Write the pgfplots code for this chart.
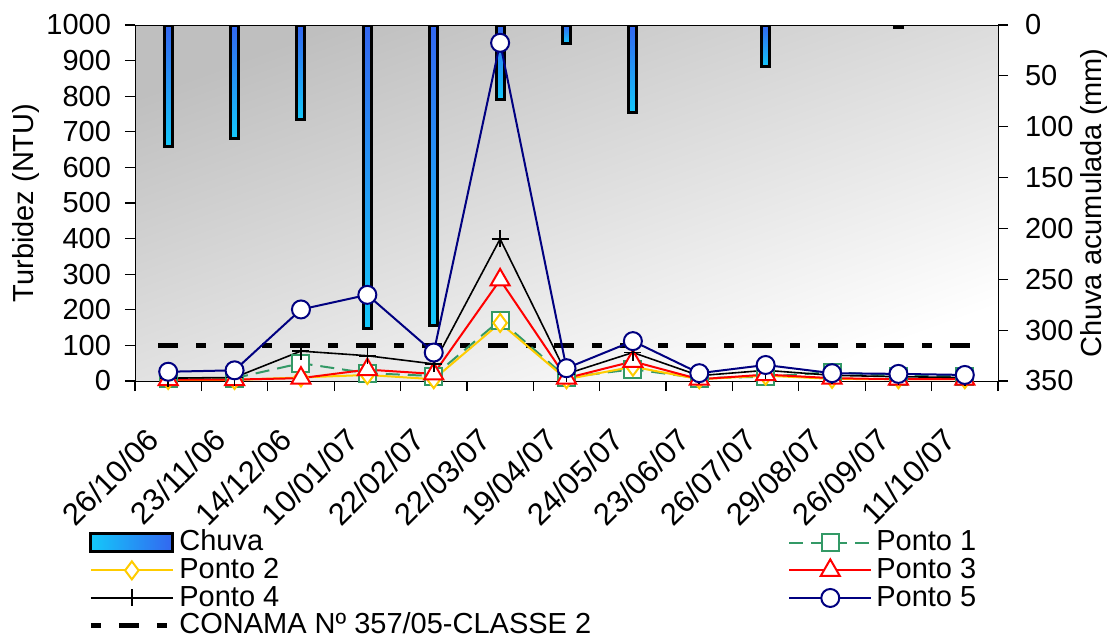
\documentclass[border=0pt]{standalone}
\usepackage{pgfplots}
\pgfplotsset{compat=1.18}
\usepackage{pgfplotstable}
\usepackage{fontspec}
\setmainfont{Liberation Sans}
\definecolor{p1}{HTML}{339966}
\definecolor{p2}{HTML}{FFCC00}
\definecolor{p5}{HTML}{000080}
\definecolor{chtop}{HTML}{3366F0}
\definecolor{chbot}{HTML}{14C8FA}

% turbidez (NTU)
\pgfplotstableread{
x p1 p2 p3 p4 p5
0 6 3 4 8 26
1 8 3 4 10 30
2 50 10 8 84 201
3 22 17 32 71 242
4 14 5 20 48 80
5 171 163 284 399 950
6 10 5 8 20 36
7 33 40 55 80 112
8 8 5 5 15 22
9 12 15 18 30 45
10 25 6 8 16 22
11 14 5 5 12 20
12 14 5 5 10 17
}\turb

\pgfplotsset{
  base/.style={
    scale only axis, width=431.5pt, height=178pt,
    xmin=-0.5, xmax=12.5,
    tick align=outside, major tick length=5pt,
    /pgf/number format/assume math mode=true,
    /pgf/number format/1000 sep={},
    tick style={black, line width=0.6pt},
  },
  chbar/.style={ybar, bar width=4pt, bar shift=0pt, draw=black, line width=1.5pt,
    top color=chtop, bottom color=chbot},
}

\begin{document}
\begin{tikzpicture}[font=\fontsize{14.5}{17}\selectfont]
\begin{axis}[
  base, name=rain,
  axis x line=none,
  axis y line*=right,
  y dir=reverse, ymin=0, ymax=350, ytick={0,50,...,350},
  yticklabel style={xshift=5pt},
  ylabel={Chuva acumulada (mm)},
  ylabel style={at={([xshift=48pt]rel axis cs:1,0.5)}, anchor=center},
  axis background/.style={shade, top color=gray!50, bottom color=white, shading angle=20},
]
% chuva acumulada (mm)
\addplot[chbar] coordinates {(0,119)};
\addplot[chbar] coordinates {(1,112)};
\addplot[chbar] coordinates {(2,93)};
\addplot[chbar] coordinates {(3,298)};
\addplot[chbar] coordinates {(4,295)};
\addplot[chbar] coordinates {(5,73)};
\addplot[chbar] coordinates {(6,18)};
\addplot[chbar] coordinates {(7,86)};
\addplot[chbar] coordinates {(9,41)};
\addplot[chbar] coordinates {(11,2)};
\end{axis}

\begin{axis}[
  base,
  ymin=0, ymax=1000, ytick={0,100,...,1000},
  ytick pos=left, xtick pos=left,
  yticklabel style={xshift=-3.5pt},
  xtick={-0.5,0.5,...,12.5}, xticklabels={},
  extra x ticks={0,...,12},
  extra x tick labels={26/10/06,23/11/06,14/12/06,10/01/07,22/02/07,22/03/07,19/04/07,24/05/07,23/06/07,26/07/07,29/08/07,26/09/07,11/10/07},
  extra x tick style={major tick length=0pt},
  xticklabel style={font=\fontsize{15.5}{18}\selectfont, inner sep=0pt, xshift=-11.5pt, yshift=-22.5pt, rotate=45, anchor=north east},
  ylabel={Turbidez (NTU)},
  ylabel style={at={([xshift=-54.75pt]rel axis cs:0,0.5)}, anchor=center},
  clip=false,
  legend columns=2,
  legend cell align=left,
  legend image code/.code={\draw[mark repeat=2, mark phase=2, #1] plot coordinates {(0pt,0pt) (20.5pt,0pt) (41pt,0pt)};},
  legend style={draw=none, fill=none, inner sep=0pt, at={(-0.0545,-0.4145)}, anchor=north west,
    nodes={inner ysep=0pt, inner xsep=2pt, text height=11pt, text depth=2.8pt},
    /tikz/every even column/.append style={column sep=96.5pt}},
]
\addlegendimage{legend image code/.code={\draw[line width=1.5pt, left color=chbot, right color=chtop] (0pt,-4.5pt) rectangle (41pt,4.5pt);}}
\addlegendentry{Chuva}
\addplot[black, line width=2.5pt, dash pattern=on 10pt off 9pt on 5pt off 9pt, forget plot]
  coordinates {(-0.15,100) (12.15,100)};
\addplot[p1, line width=1pt, dash pattern=on 7pt off 4pt, mark=square*, mark size=4.25pt, mark options={solid, fill=white}]
  table[x=x, y=p1] {\turb};
\addlegendentry{Ponto 1}
\addplot[p2, line width=1pt, mark=diamond*, mark size=4.5pt, mark options={fill=white}]
  table[x=x, y=p2] {\turb};
\addlegendentry{Ponto 2}
\addplot[red, line width=1pt, mark=triangle*, mark size=5.5pt, mark options={fill=white}]
  table[x=x, y=p3] {\turb};
\addlegendentry{Ponto 3}
\addplot[black, line width=0.8pt, mark=+, mark size=4.25pt]
  table[x=x, y=p4] {\turb};
\addlegendentry{Ponto 4}
\addplot[p5, line width=1pt, mark=*, mark size=4.5pt, mark options={fill=white}]
  table[x=x, y=p5] {\turb};
\addlegendentry{Ponto 5}
\addlegendimage{black, line width=2.5pt, dash pattern=on 5pt off 9pt on 10pt off 9pt}
\addlegendentry{CONAMA Nº 357/05-CLASSE 2}
\end{axis}
\pgfresetboundingbox
\path (rain.south west) ++(-67.5pt,-128.5pt) rectangle ++(556pt,319pt);
\end{tikzpicture}
\end{document}
